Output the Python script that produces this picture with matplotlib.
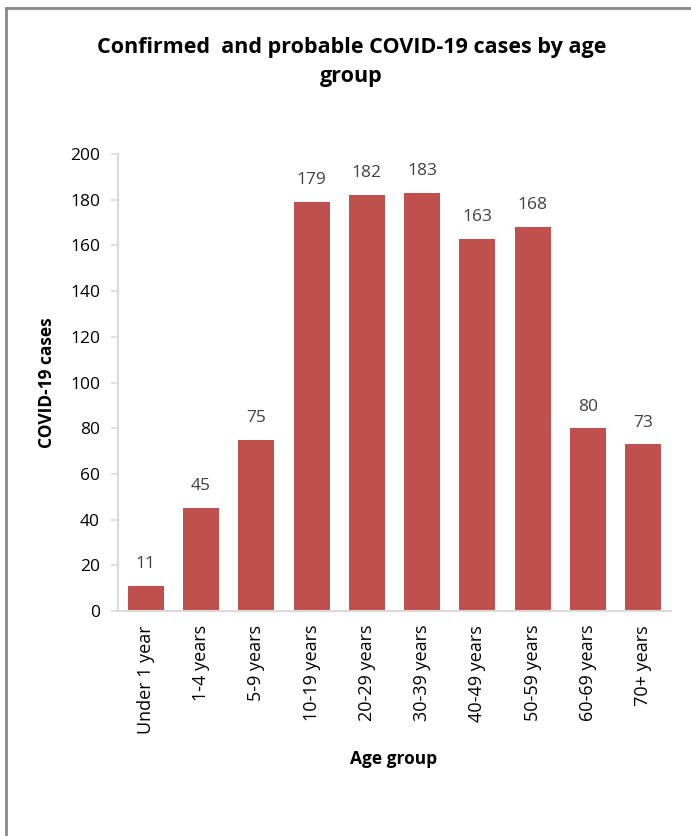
import matplotlib
matplotlib.use("Agg")
import matplotlib.pyplot as plt
from matplotlib.lines import Line2D

# data
age_groups = ["Under 1 year", "1-4 years", "5-9 years", "10-19 years", "20-29 years",
              "30-39 years", "40-49 years", "50-59 years", "60-69 years", "70+ years"]
cases = [11, 45, 75, 179, 182, 183, 163, 168, 80, 73]
y_ticks = [0, 20, 40, 60, 80, 100, 120, 140, 160, 180, 200]

BAR_COLOR = "#C0504D"
AXIS_COLOR = "#D9D9D9"

plt.rcParams["font.family"] = ["Open Sans", "DejaVu Sans"]

fig = plt.figure(figsize=(6.91, 8.36), dpi=100)
ax = fig.add_axes([0.1708, 0.2691, 0.8002, 0.5467])

x = range(len(age_groups))
bars = ax.bar(x, cases, width=0.65, color=BAR_COLOR)
for b, v in zip(bars, cases):
    ax.text(b.get_x() + b.get_width() / 2, v + 6, str(v), ha="center", va="bottom",
            fontsize=12.5, color="#404040")

ax.set_xlim(-0.5, len(age_groups) - 0.5)
ax.set_ylim(0, 200)
ax.set_yticks(y_ticks)
ax.set_xticks(list(x))
ax.set_xticklabels(age_groups, rotation=90, fontsize=13)
ax.tick_params(axis="y", labelsize=12.5, length=5, color=AXIS_COLOR, width=1.2, pad=8)
ax.tick_params(axis="x", length=0, pad=10)

for s in ["top", "right"]:
    ax.spines[s].set_visible(False)
for s in ["left", "bottom"]:
    ax.spines[s].set_color(AXIS_COLOR)
    ax.spines[s].set_linewidth(1.5)

ax.set_ylabel("COVID-19 cases", fontsize=12.5, fontweight="bold", labelpad=10)
fig.text(0.570, 1 - 759 / 836, "Age group", ha="center", va="center",
         fontsize=12.5, fontweight="bold")

fig.text(0.509, 1 - 62 / 836, "Confirmed  and probable COVID-19 cases by age\ngroup",
         ha="center", va="center", fontsize=15.5, fontweight="bold", linespacing=1.5)

# chart frame (only top and left edges visible in the reference)
fig.add_artist(Line2D([6 / 691, 6 / 691], [0, 1 - 8 / 836], transform=fig.transFigure,
                      color="#888888", lw=2))
fig.add_artist(Line2D([6 / 691, 1], [1 - 8 / 836, 1 - 8 / 836], transform=fig.transFigure,
                      color="#888888", lw=2))

fig.savefig("out.png", dpi=100)
